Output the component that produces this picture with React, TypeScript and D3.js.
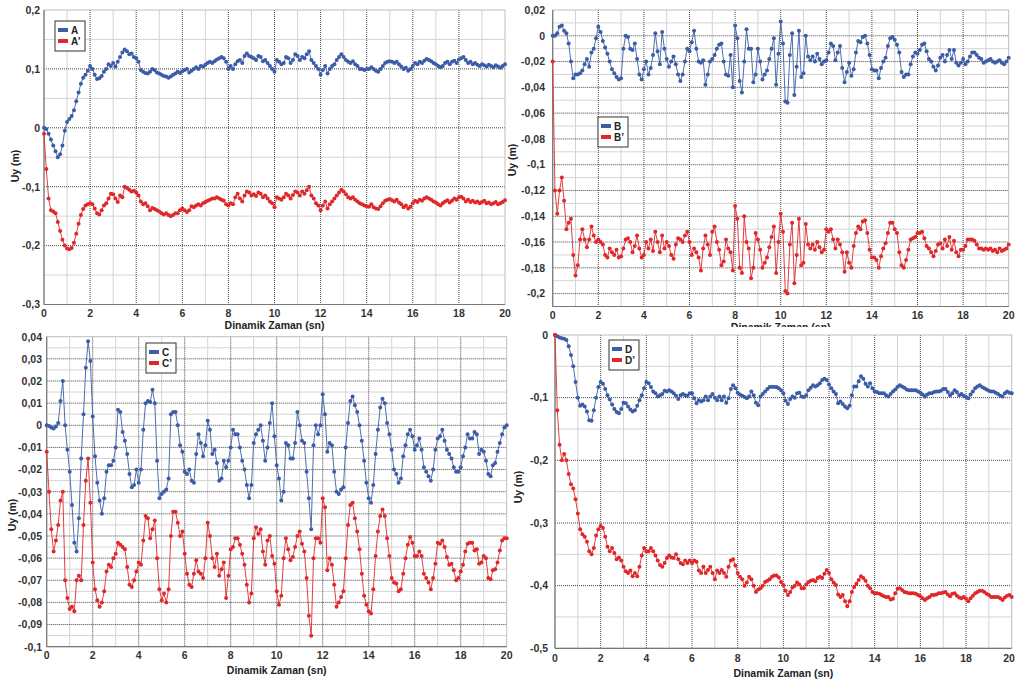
import React from 'react';
import * as d3 from 'd3';

// sample times (s), one reading every 0.1 s
const TIME = d3.range(201).map(i => i / 10);
const X_TICKS = [0, 2, 4, 6, 8, 10, 12, 14, 16, 18, 20];

const A_Y_TICKS = [0.2, 0.1, 0, -0.1, -0.2, -0.3];
const B_Y_TICKS = [0.02, 0, -0.02, -0.04, -0.06, -0.08, -0.1, -0.12, -0.14, -0.16, -0.18, -0.2];
const C_Y_TICKS = [0.04, 0.03, 0.02, 0.01, 0, -0.01, -0.02, -0.03, -0.04, -0.05, -0.06, -0.07, -0.08, -0.09, -0.1];
const D_Y_TICKS = [0, -0.1, -0.2, -0.3, -0.4, -0.5];

const A_VALUES = [
  0, -0.002, -0.01, -0.02, -0.03, -0.04, -0.05, -0.045, -0.03, -0.005,
  0.01, 0.015, 0.02, 0.03, 0.045, 0.06, 0.075, 0.085, 0.09, 0.097,
  0.105, 0.1, 0.09, 0.083, 0.084, 0.088, 0.095, 0.1, 0.108, 0.105,
  0.11, 0.104, 0.112, 0.12, 0.128, 0.133, 0.13, 0.125, 0.126, 0.12,
  0.118, 0.112, 0.098, 0.095, 0.093, 0.092, 0.095, 0.1, 0.098, 0.094,
  0.092, 0.09, 0.088, 0.087, 0.085, 0.087, 0.09, 0.092, 0.095, 0.093,
  0.096, 0.098, 0.1, 0.094, 0.097, 0.1, 0.103, 0.1, 0.105, 0.104,
  0.107, 0.11, 0.112, 0.11, 0.113, 0.116, 0.118, 0.12, 0.118, 0.112,
  0.1, 0.105, 0.1, 0.108, 0.113, 0.115, 0.11, 0.122, 0.126, 0.122,
  0.12, 0.118, 0.115, 0.122, 0.12, 0.113, 0.115, 0.11, 0.105, 0.1,
  0.095, 0.115, 0.112, 0.108, 0.11, 0.12, 0.118, 0.11, 0.115, 0.125,
  0.122, 0.115, 0.12, 0.118, 0.125, 0.13, 0.115, 0.11, 0.105, 0.1,
  0.09, 0.098, 0.105, 0.092, 0.1, 0.105, 0.108, 0.115, 0.12, 0.125,
  0.12, 0.115, 0.112, 0.11, 0.113, 0.108, 0.105, 0.1, 0.1, 0.098,
  0.1, 0.1, 0.103, 0.1, 0.097, 0.095, 0.1, 0.105, 0.11, 0.112,
  0.113, 0.112, 0.11, 0.112, 0.108, 0.104, 0.1, 0.102, 0.097, 0.1,
  0.105, 0.11, 0.108, 0.112, 0.11, 0.114, 0.117, 0.115, 0.113, 0.11,
  0.108, 0.105, 0.103, 0.105, 0.11, 0.112, 0.108, 0.112, 0.114, 0.11,
  0.116, 0.118, 0.12, 0.115, 0.11, 0.112, 0.108, 0.11, 0.107, 0.105,
  0.108, 0.106, 0.104, 0.107, 0.105, 0.103, 0.106, 0.104, 0.102, 0.105,
  0.108,
];

const A_PRIME_VALUES = [
  -0.01, -0.07, -0.12, -0.14, -0.142, -0.145, -0.16, -0.175, -0.19, -0.2,
  -0.205, -0.206, -0.204, -0.195, -0.18, -0.163, -0.148, -0.138, -0.132, -0.13,
  -0.128, -0.13, -0.137, -0.145, -0.147, -0.14, -0.132, -0.128, -0.12, -0.112,
  -0.113, -0.12, -0.126, -0.115, -0.118, -0.1, -0.102, -0.105, -0.108, -0.107,
  -0.11, -0.115, -0.125, -0.13, -0.128, -0.133, -0.14, -0.136, -0.138, -0.14,
  -0.142, -0.145, -0.147, -0.145, -0.148, -0.15, -0.148, -0.145, -0.145, -0.14,
  -0.137, -0.14, -0.143, -0.14, -0.133, -0.135, -0.132, -0.13, -0.132, -0.128,
  -0.126, -0.124, -0.122, -0.12, -0.12, -0.118, -0.12, -0.122, -0.124, -0.13,
  -0.132, -0.128, -0.13, -0.118, -0.112, -0.12, -0.125, -0.115, -0.108, -0.11,
  -0.115, -0.113, -0.116, -0.11, -0.112, -0.118, -0.115, -0.12, -0.125, -0.128,
  -0.135, -0.118, -0.12, -0.122, -0.118, -0.112, -0.115, -0.12, -0.114, -0.108,
  -0.11, -0.115, -0.108, -0.112, -0.106, -0.1, -0.115, -0.12, -0.128, -0.132,
  -0.14, -0.132, -0.125, -0.137, -0.13, -0.125, -0.12, -0.115, -0.11, -0.105,
  -0.108, -0.113, -0.118, -0.12, -0.118, -0.122, -0.125, -0.128, -0.13, -0.132,
  -0.133, -0.134, -0.13, -0.135, -0.137, -0.138, -0.133, -0.128, -0.124, -0.122,
  -0.121, -0.123, -0.125, -0.122, -0.127, -0.13, -0.135, -0.132, -0.137, -0.134,
  -0.128, -0.124, -0.126, -0.122, -0.124, -0.12, -0.118, -0.12, -0.122, -0.125,
  -0.127, -0.13, -0.132, -0.128, -0.125, -0.123, -0.127, -0.124, -0.12, -0.122,
  -0.118, -0.117, -0.12, -0.125, -0.122, -0.126, -0.124, -0.127, -0.125, -0.128,
  -0.126, -0.124, -0.128, -0.127, -0.13, -0.128, -0.126, -0.13, -0.128, -0.126,
  -0.123,
];

const B_VALUES = [
  0, 0, 0.002, 0.007, 0.008, 0.004, 0.002, -0.006, -0.02, -0.033,
  -0.03, -0.03, -0.029, -0.027, -0.022, -0.018, -0.024, -0.013, -0.01, -0.002,
  0.007, 0.003, -0.004, -0.009, -0.014, -0.02, -0.026, -0.029, -0.032, -0.034,
  -0.033, -0.01, 0, -0.001, -0.01, -0.011, -0.006, -0.018, -0.03, -0.034,
  -0.026, -0.02, -0.03, -0.025, -0.015, 0.002, -0.012, -0.022, 0.003, -0.01,
  -0.018, -0.024, -0.02, -0.016, -0.022, -0.03, -0.035, -0.03, -0.02, -0.01,
  -0.012, -0.005, 0.004, -0.01, -0.02, -0.021, -0.019, -0.038, -0.03, -0.02,
  -0.018, -0.015, -0.01, -0.007, -0.006, -0.02, -0.03, -0.031, -0.015, -0.04,
  0.008, -0.002, -0.035, -0.044, -0.02, 0.005, -0.01, -0.01, -0.036, -0.03,
  -0.01, -0.02, -0.034, -0.03, -0.027, -0.018, -0.01, -0.002, -0.038, -0.014,
  0.011, -0.006, -0.051, -0.052, -0.015, 0.002, -0.046, -0.024, 0.004, -0.032,
  -0.029, 0, -0.016, -0.019, -0.016, -0.02, -0.014, -0.018, -0.022, -0.02,
  -0.019, -0.013, -0.006, -0.008, -0.019, -0.013, -0.008, -0.025, -0.036, -0.028,
  -0.021, -0.031, -0.026, -0.013, -0.004, -0.005, -0.001, 0, -0.006, -0.015,
  -0.026, -0.027, -0.027, -0.033, -0.025, -0.02, -0.017, -0.008, -0.002, -0.001,
  -0.003, -0.007, -0.013, -0.028, -0.032, -0.03, -0.03, -0.022, -0.016, -0.013,
  -0.014, -0.011, -0.007, -0.006, -0.012, -0.018, -0.02, -0.024, -0.027, -0.023,
  -0.017, -0.015, -0.02, -0.015, -0.011, -0.018, -0.011, -0.021, -0.023, -0.021,
  -0.018, -0.022, -0.02, -0.016, -0.013, -0.013, -0.015, -0.017, -0.018, -0.021,
  -0.02, -0.019, -0.018, -0.02, -0.021, -0.02, -0.019, -0.021, -0.022, -0.02,
  -0.017,
];

const B_PRIME_VALUES = [
  -0.02, -0.12, -0.138, -0.12, -0.11, -0.128, -0.15, -0.145, -0.142, -0.17,
  -0.186, -0.178, -0.158, -0.15, -0.158, -0.164, -0.158, -0.148, -0.155, -0.16,
  -0.158, -0.16, -0.162, -0.17, -0.172, -0.165, -0.168, -0.17, -0.166, -0.172,
  -0.171, -0.165, -0.158, -0.157, -0.16, -0.168, -0.163, -0.155, -0.165, -0.172,
  -0.17, -0.16, -0.165, -0.158, -0.167, -0.152, -0.16, -0.168, -0.155, -0.165,
  -0.16, -0.163, -0.17, -0.173, -0.162, -0.157, -0.158, -0.16, -0.155, -0.152,
  -0.16, -0.17, -0.165, -0.168, -0.172, -0.182, -0.165, -0.155, -0.162, -0.17,
  -0.152, -0.148, -0.16, -0.166, -0.178, -0.175, -0.158, -0.165, -0.168, -0.182,
  -0.132, -0.142, -0.18, -0.184, -0.14, -0.16, -0.165, -0.188, -0.18, -0.153,
  -0.158, -0.166, -0.18, -0.176, -0.172, -0.164, -0.156, -0.148, -0.184, -0.16,
  -0.138, -0.152, -0.198, -0.2, -0.162, -0.145, -0.192, -0.17, -0.142, -0.178,
  -0.176, -0.146, -0.162, -0.165, -0.162, -0.166, -0.16, -0.164, -0.168, -0.166,
  -0.15, -0.152, -0.15, -0.158, -0.165, -0.158, -0.162, -0.168, -0.183, -0.168,
  -0.176, -0.18, -0.163, -0.153, -0.148, -0.15, -0.144, -0.143, -0.153, -0.166,
  -0.172, -0.172, -0.174, -0.18, -0.171, -0.165, -0.161, -0.153, -0.145, -0.145,
  -0.15, -0.153, -0.168, -0.178, -0.18, -0.174, -0.166, -0.158, -0.157, -0.156,
  -0.153, -0.153, -0.152, -0.157, -0.163, -0.165, -0.168, -0.171, -0.167, -0.162,
  -0.161, -0.165, -0.158, -0.163, -0.156, -0.166, -0.159, -0.168, -0.171, -0.166,
  -0.166, -0.163, -0.158, -0.158, -0.158, -0.159, -0.162, -0.165, -0.165, -0.166,
  -0.165, -0.166, -0.165, -0.167, -0.166, -0.168, -0.165, -0.167, -0.166, -0.165,
  -0.162,
];

const C_VALUES = [
  0, -0.0003, -0.001, -0.0015, -0.0005, 0.001, 0.011, 0.02, 0, -0.011,
  -0.021, -0.036, -0.053, -0.057, -0.042, -0.015, 0.005, 0.026, 0.038, 0.029,
  0.004, -0.014, -0.026, -0.034, -0.04, -0.033, -0.021, -0.018, -0.018, -0.016,
  -0.01, 0.007, 0.006, -0.003, -0.007, -0.013, -0.022, -0.028, -0.027, -0.02,
  -0.026, -0.02, -0.002, 0.01, 0.011, 0.0105, 0.016, 0.01, -0.016, -0.033,
  -0.031, -0.03, -0.029, -0.024, 0.005, 0.006, 0.006, 0, -0.009, -0.012,
  -0.021, -0.022, -0.02, -0.025, -0.026, -0.013, -0.004, -0.008, -0.014, -0.009,
  0.002, -0.002, -0.013, -0.011, -0.017, -0.025, -0.024, -0.016, -0.019, -0.016,
  -0.01, -0.002, -0.004, -0.004, -0.01, -0.016, -0.02, -0.027, -0.033, -0.027,
  -0.008, -0.004, -0.002, 0, -0.007, -0.016, -0.01, 0.001, 0.01, -0.005,
  -0.018, -0.024, -0.034, -0.03, -0.008, -0.009, -0.015, -0.015, -0.008, 0.006,
  0, -0.007, -0.008, -0.021, -0.033, -0.047, -0.009, 0, -0.004, 0,
  0.014, 0.005, -0.012, -0.008, -0.009, -0.021, -0.03, -0.031, -0.029, -0.028,
  -0.01, 0.001, 0.011, 0.013, 0.009, 0.006, 0, -0.007, -0.016, -0.026,
  -0.033, -0.035, -0.027, -0.013, -0.002, 0.008, 0.012, 0.01, 0.001, -0.004,
  -0.011, -0.02, -0.022, -0.026, -0.024, -0.014, -0.009, -0.004, -0.002, -0.005,
  -0.011, -0.009, -0.006, -0.011, -0.019, -0.021, -0.023, -0.025, -0.02, -0.011,
  -0.006, -0.005, -0.002, -0.007, -0.011, -0.013, -0.015, -0.019, -0.021, -0.021,
  -0.019, -0.014, -0.01, -0.004, -0.006, -0.006, -0.003, -0.004, -0.013, -0.011,
  -0.012, -0.016, -0.022, -0.023, -0.018, -0.017, -0.012, -0.008, -0.004, -0.001,
  0,
];

const C_PRIME_VALUES = [
  -0.012, -0.03, -0.047, -0.057, -0.052, -0.045, -0.034, -0.03, -0.07, -0.078,
  -0.083, -0.082, -0.084, -0.07, -0.068, -0.07, -0.045, -0.025, -0.015, -0.035,
  -0.062, -0.074, -0.079, -0.082, -0.08, -0.075, -0.066, -0.063, -0.064, -0.06,
  -0.058, -0.053, -0.054, -0.055, -0.056, -0.064, -0.072, -0.073, -0.07, -0.066,
  -0.062, -0.063, -0.052, -0.041, -0.042, -0.051, -0.047, -0.043, -0.06, -0.074,
  -0.079, -0.076, -0.08, -0.074, -0.05, -0.039, -0.039, -0.044, -0.05, -0.048,
  -0.058, -0.067, -0.072, -0.073, -0.067, -0.061, -0.066, -0.067, -0.069, -0.06,
  -0.044, -0.05, -0.06, -0.064, -0.058, -0.068, -0.065, -0.062, -0.078, -0.068,
  -0.056, -0.055, -0.051, -0.051, -0.054, -0.058, -0.063, -0.072, -0.08, -0.076,
  -0.051, -0.046, -0.049, -0.047, -0.057, -0.063, -0.052, -0.05, -0.059, -0.0625,
  -0.075, -0.081, -0.077, -0.06, -0.051, -0.056, -0.061, -0.0595, -0.055, -0.05,
  -0.048, -0.0535, -0.057, -0.069, -0.086, -0.095, -0.06, -0.051, -0.051, -0.053,
  -0.033, -0.037, -0.0655, -0.06, -0.063, -0.072, -0.082, -0.08, -0.0775, -0.075,
  -0.06, -0.045, -0.036, -0.035, -0.042, -0.048, -0.056, -0.067, -0.077, -0.081,
  -0.084, -0.085, -0.074, -0.059, -0.048, -0.041, -0.038, -0.041, -0.051, -0.059,
  -0.069, -0.071, -0.0715, -0.075, -0.074, -0.067, -0.06, -0.054, -0.0505, -0.053,
  -0.059, -0.059, -0.057, -0.059, -0.067, -0.069, -0.071, -0.074, -0.069, -0.0625,
  -0.053, -0.0535, -0.052, -0.055, -0.0595, -0.063, -0.0625, -0.0655, -0.07, -0.069,
  -0.066, -0.063, -0.057, -0.0535, -0.053, -0.053, -0.0565, -0.056, -0.0625, -0.062,
  -0.059, -0.06, -0.069, -0.0695, -0.0655, -0.065, -0.062, -0.0565, -0.052, -0.051,
  -0.051,
];

const D_VALUES = [
  0, -0.002, -0.004, -0.005, -0.006, -0.008, -0.018, -0.032, -0.05, -0.075,
  -0.1, -0.113, -0.111, -0.114, -0.122, -0.136, -0.137, -0.12, -0.1, -0.083,
  -0.075, -0.078, -0.086, -0.096, -0.103, -0.111, -0.118, -0.123, -0.125, -0.118,
  -0.108, -0.109, -0.114, -0.119, -0.122, -0.12, -0.113, -0.104, -0.096, -0.085,
  -0.075, -0.077, -0.083, -0.09, -0.093, -0.098, -0.096, -0.094, -0.089, -0.09,
  -0.088, -0.09, -0.093, -0.097, -0.102, -0.096, -0.094, -0.096, -0.097, -0.093,
  -0.093, -0.101, -0.109, -0.104, -0.106, -0.104, -0.098, -0.104, -0.098, -0.094,
  -0.1, -0.104, -0.098, -0.104, -0.098, -0.108, -0.101, -0.086, -0.08, -0.085,
  -0.092, -0.095, -0.097, -0.099, -0.101, -0.098, -0.09, -0.096, -0.108, -0.112,
  -0.098, -0.094, -0.09, -0.086, -0.083, -0.0825, -0.083, -0.083, -0.085, -0.088,
  -0.093, -0.105, -0.11, -0.102, -0.098, -0.1, -0.093, -0.092, -0.098, -0.099,
  -0.096, -0.088, -0.084, -0.08, -0.082, -0.08, -0.077, -0.072, -0.07, -0.072,
  -0.079, -0.085, -0.09, -0.094, -0.109, -0.106, -0.11, -0.114, -0.117, -0.113,
  -0.096, -0.082, -0.082, -0.074, -0.066, -0.07, -0.078, -0.082, -0.077, -0.085,
  -0.09, -0.091, -0.093, -0.093, -0.093, -0.096, -0.098, -0.094, -0.09, -0.087,
  -0.083, -0.08, -0.082, -0.084, -0.087, -0.088, -0.088, -0.088, -0.088, -0.09,
  -0.092, -0.095, -0.098, -0.095, -0.093, -0.093, -0.091, -0.09, -0.09, -0.089,
  -0.086, -0.086, -0.091, -0.096, -0.093, -0.088, -0.091, -0.096, -0.094, -0.097,
  -0.099, -0.101, -0.095, -0.09, -0.085, -0.082, -0.08, -0.083, -0.085, -0.087,
  -0.089, -0.09, -0.09, -0.092, -0.094, -0.097, -0.098, -0.093, -0.09, -0.092,
  -0.093,
];

const D_PRIME_VALUES = [
  0, -0.12, -0.175, -0.2, -0.19, -0.2, -0.222, -0.238, -0.245, -0.262,
  -0.285, -0.31, -0.318, -0.322, -0.33, -0.345, -0.35, -0.34, -0.32, -0.31,
  -0.305, -0.308, -0.322, -0.338, -0.345, -0.34, -0.348, -0.358, -0.355, -0.36,
  -0.37, -0.377, -0.38, -0.376, -0.385, -0.38, -0.385, -0.37, -0.352, -0.34,
  -0.345, -0.345, -0.34, -0.345, -0.352, -0.36, -0.367, -0.37, -0.364, -0.356,
  -0.352, -0.355, -0.356, -0.35, -0.358, -0.364, -0.366, -0.36, -0.364, -0.36,
  -0.364, -0.36, -0.362, -0.376, -0.38, -0.37, -0.38, -0.375, -0.37, -0.38,
  -0.39, -0.376, -0.38, -0.375, -0.38, -0.386, -0.37, -0.36, -0.358, -0.368,
  -0.38, -0.386, -0.39, -0.4, -0.395, -0.386, -0.39, -0.4, -0.41, -0.406,
  -0.404, -0.4, -0.394, -0.392, -0.39, -0.386, -0.384, -0.384, -0.387, -0.394,
  -0.399, -0.408, -0.415, -0.41, -0.403, -0.4, -0.395, -0.398, -0.404, -0.404,
  -0.398, -0.394, -0.392, -0.391, -0.393, -0.388, -0.386, -0.388, -0.381, -0.375,
  -0.38, -0.39, -0.395, -0.399, -0.414, -0.418, -0.415, -0.425, -0.433, -0.425,
  -0.41, -0.402, -0.397, -0.391, -0.385, -0.388, -0.392, -0.4, -0.404, -0.41,
  -0.412, -0.412, -0.413, -0.415, -0.417, -0.418, -0.418, -0.422, -0.421, -0.412,
  -0.405, -0.404, -0.407, -0.41, -0.411, -0.412, -0.412, -0.412, -0.413, -0.415,
  -0.417, -0.42, -0.423, -0.42, -0.418, -0.415, -0.415, -0.414, -0.412, -0.412,
  -0.411, -0.41, -0.414, -0.417, -0.413, -0.412, -0.416, -0.419, -0.42, -0.418,
  -0.421, -0.425, -0.42, -0.416, -0.412, -0.41, -0.408, -0.408, -0.41, -0.413,
  -0.415, -0.418, -0.418, -0.418, -0.418, -0.42, -0.423, -0.419, -0.416, -0.415,
  -0.418,
];

const BLUE = '#3b5ca6';
const RED = '#e0282a';
const FONT = '"Liberation Sans", Arial, sans-serif';
const PAGE_W = 1016;

type PanelCfg = {
  id: string;
  names: [string, string];
  blue: number[];
  red: number[];
  yDomain: [number, number];
  yTicks: number[];
  minorStep: number;
  left: number; right: number; top: number; bottom: number;
  legendX: number; legendY: number;
  yTitleX: number; yTitleY: number;
  tickRight: number; xTickY: number; xTitleY: number;
  clipBottom?: number;
};

const PANELS: PanelCfg[] = [
  { id: 'a', names: ['A', 'A\u2019'], blue: A_VALUES, red: A_PRIME_VALUES, yDomain: [-0.3, 0.2], yTicks: A_Y_TICKS, minorStep: 0.05,
    left: 44, right: 505, top: 10, bottom: 304.5, legendX: 55, legendY: 21, yTitleX: 19, yTitleY: 166, tickRight: 40, xTickY: 317, xTitleY: 329 },
  { id: 'b', names: ['B', 'B\u2019'], blue: B_VALUES, red: B_PRIME_VALUES, yDomain: [-0.21, 0.02], yTicks: B_Y_TICKS, minorStep: 0.01,
    left: 552.7, right: 1008.7, top: 10, bottom: 306.5, legendX: 598, legendY: 117, yTitleX: 516, yTitleY: 160, tickRight: 545, xTickY: 319, xTitleY: 331, clipBottom: 327 },
  { id: 'c', names: ['C', 'C\u2019'], blue: C_VALUES, red: C_PRIME_VALUES, yDomain: [-0.1, 0.04], yTicks: C_Y_TICKS, minorStep: 0.005,
    left: 46.7, right: 506.7, top: 336.7, bottom: 646.7, legendX: 146, legendY: 343, yTitleX: 16, yTitleY: 515, tickRight: 42, xTickY: 659, xTitleY: 674 },
  { id: 'd', names: ['D', 'D\u2019'], blue: D_VALUES, red: D_PRIME_VALUES, yDomain: [-0.5, 0], yTicks: D_Y_TICKS, minorStep: 0.05,
    left: 555, right: 1011.7, top: 335, bottom: 648.3, legendX: 609, legendY: 340, yTitleX: 522, yTitleY: 487, tickRight: 548, xTickY: 662, xTitleY: 677 },
];

const fmt = (v: number) => String(+v.toFixed(3)).replace('.', ',');

function Panel({ cfg }: { cfg: PanelCfg }) {
  const x = d3.scaleLinear().domain([0, 20]).range([cfg.left, cfg.right]);
  const y = d3.scaleLinear().domain(cfg.yDomain).range([cfg.bottom, cfg.top]);
  const line = d3.line<number>().x((_, i) => x(TIME[i])).y(v => y(v));

  const minorX = d3.range(1, 20, 2);
  const minorY = d3.range(cfg.yDomain[0], cfg.yDomain[1] + 1e-9, cfg.minorStep)
    .filter(v => !cfg.yTicks.some(t => Math.abs(t - v) < 1e-6));

  const series = [
    { values: cfg.blue, color: BLUE },
    { values: cfg.red, color: RED },
  ];
  const midX = (cfg.left + cfg.right) / 2;

  return (
    <g>
      {/* minor grid */}
      {minorX.map(t => (
        <line key={'mx' + t} x1={x(t)} x2={x(t)} y1={cfg.top} y2={cfg.bottom} stroke="#d4d4d4" strokeWidth={1} />
      ))}
      {minorY.map((v, i) => (
        <line key={'my' + i} x1={cfg.left} x2={cfg.right} y1={y(v)} y2={y(v)} stroke="#d4d4d4" strokeWidth={1} />
      ))}
      {/* major grid */}
      {X_TICKS.slice(1, -1).map(t => (
        <line key={'gx' + t} x1={x(t)} x2={x(t)} y1={cfg.top} y2={cfg.bottom} stroke="#444" strokeWidth={1} strokeDasharray="1,1" />
      ))}
      {cfg.yTicks.filter(v => v > cfg.yDomain[0] && v < cfg.yDomain[1]).map(v => (
        <line key={'gy' + v} x1={cfg.left} x2={cfg.right} y1={y(v)} y2={y(v)} stroke="#444" strokeWidth={1} strokeDasharray="1,1" />
      ))}
      {/* frame */}
      <rect x={cfg.left} y={cfg.top} width={cfg.right - cfg.left} height={cfg.bottom - cfg.top} fill="none" stroke="#bdbdbd" />
      <line x1={cfg.left} x2={cfg.left} y1={cfg.top} y2={cfg.bottom} stroke="#777" strokeWidth={1.2} />
      <line x1={cfg.left} x2={cfg.right} y1={cfg.bottom} y2={cfg.bottom} stroke="#777" strokeWidth={1.2} />

      {/* series */}
      {series.map((s, si) => (
        <g key={si}>
          <path d={line(s.values) || ''} fill="none" stroke={s.color} strokeWidth={0.9} />
          {s.values.map((v, i) => (
            <circle key={i} cx={x(TIME[i])} cy={y(v)} r={2} fill={s.color} />
          ))}
        </g>
      ))}

      {/* tick labels */}
      <g fontFamily={FONT} fontWeight="bold" fontSize={10.5} fill="#333">
        {cfg.yTicks.map(v => (
          <text key={'ty' + v} x={cfg.tickRight} y={y(v) + 3.8} textAnchor="end">{fmt(v)}</text>
        ))}
        {X_TICKS.map(t => (
          <text key={'tx' + t} x={Math.min(x(t), PAGE_W - 7)} y={cfg.xTickY} textAnchor="middle">{t}</text>
        ))}
      </g>

      {/* axis titles */}
      <g fontFamily={FONT} fontWeight="bold" fontSize={10.5} fill="#222">
        {cfg.clipBottom ? (
          <>
            <clipPath id={'clip-' + cfg.id}>
              <rect x={cfg.left} y={0} width={cfg.right - cfg.left} height={cfg.clipBottom} />
            </clipPath>
            <text x={midX} y={cfg.xTitleY} textAnchor="middle" clipPath={`url(#clip-${cfg.id})`}>Dinamik Zaman (sn)</text>
          </>
        ) : (
          <text x={midX} y={cfg.xTitleY} textAnchor="middle">Dinamik Zaman (sn)</text>
        )}
        <text transform={`translate(${cfg.yTitleX},${cfg.yTitleY}) rotate(-90)`} textAnchor="middle">Uy (m)</text>
      </g>

      {/* legend */}
      <g transform={`translate(${cfg.legendX},${cfg.legendY})`} fontFamily={FONT} fontWeight="bold" fontSize={10} fill="#222">
        <rect x={0} y={0} width={30} height={30} fill="#fff" stroke="#333" strokeWidth={1} />
        <line x1={3} x2={13} y1={9} y2={9} stroke={BLUE} strokeWidth={4} />
        <text x={16} y={12.5}>{cfg.names[0]}</text>
        <line x1={3} x2={13} y1={20} y2={20} stroke={RED} strokeWidth={4} />
        <text x={16} y={23.5}>{cfg.names[1]}</text>
      </g>
    </g>
  );
}

export default function App() {
  return (
    <svg width={PAGE_W} height={681} style={{ position: 'absolute', left: 0, top: 0, background: '#fff' }}>
      <rect width={PAGE_W} height={681} fill="#fff" />
      {PANELS.map(p => <Panel key={p.id} cfg={p} />)}
    </svg>
  );
}
